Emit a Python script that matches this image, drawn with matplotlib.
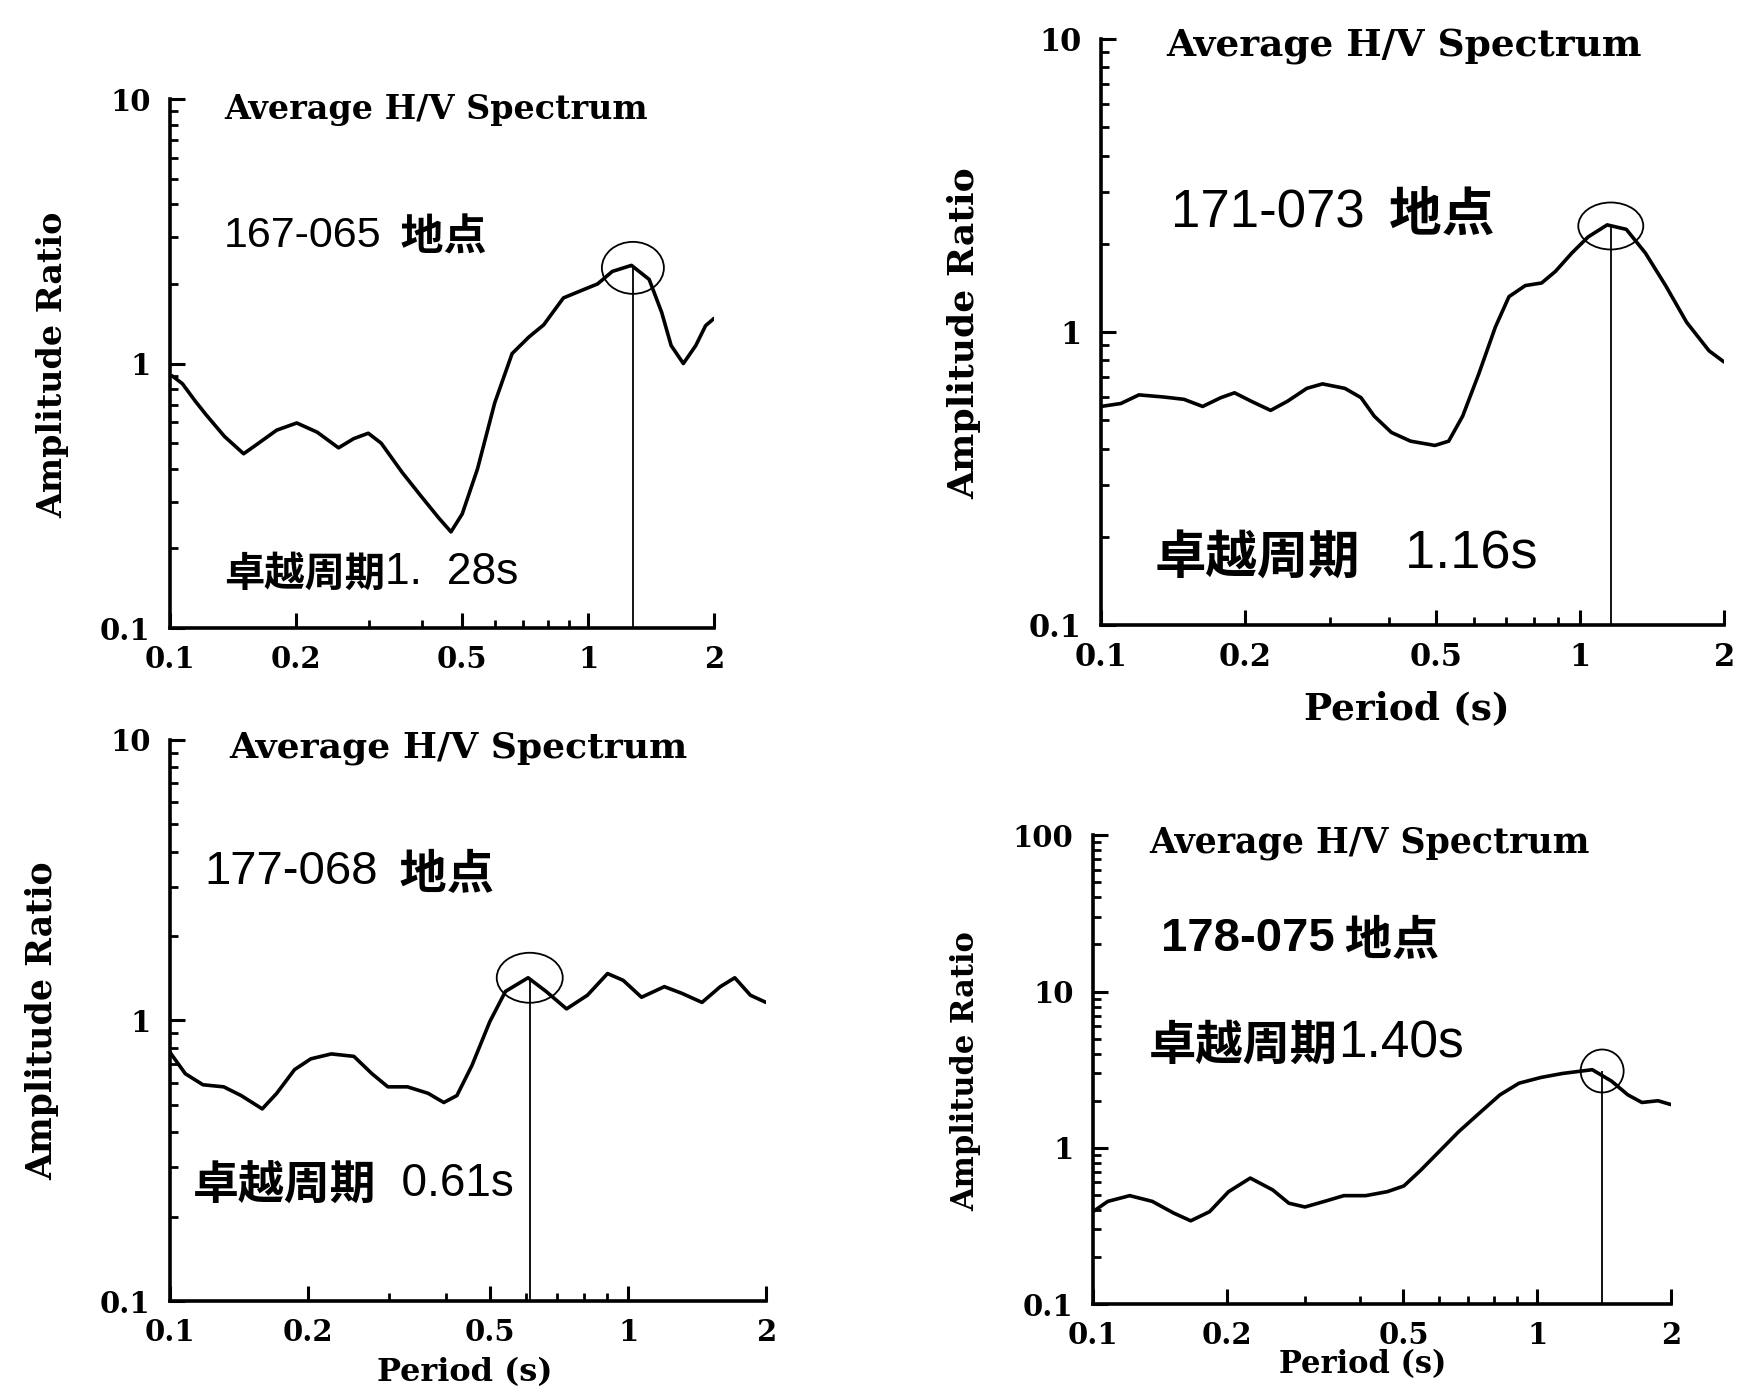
import numpy as np
import matplotlib
matplotlib.use("Agg")
import matplotlib.pyplot as plt
from matplotlib.patches import Ellipse
from matplotlib import transforms
from matplotlib.ticker import LogLocator, NullFormatter

# site names and predominant period of each H/V spectrum
sites = ["167-065", "171-073", "177-068", "178-075"]
period_text = ["1.  28s", "1.16s", "0.61s", "1.40s"]
peak_period = [1.28, 1.16, 0.61, 1.40]
peak_amp = [2.3, 2.3, 1.42, 3.1]

# curves: period (s) / amplitude ratio
t1 = [0.101, 0.107, 0.115, 0.122, 0.135, 0.150, 0.160, 0.180, 0.201, 0.225, 0.253, 0.275,
      0.298, 0.320, 0.359, 0.400, 0.440, 0.470, 0.500, 0.544, 0.598, 0.658, 0.722,
      0.783, 0.873, 0.973, 1.054, 1.143, 1.27, 1.40, 1.50, 1.58, 1.69, 1.81, 1.91, 2.0]
a1 = [0.90, 0.84, 0.72, 0.64, 0.53, 0.456, 0.49, 0.56, 0.596, 0.55, 0.48, 0.52,
      0.545, 0.50, 0.388, 0.313, 0.26, 0.231, 0.27, 0.40, 0.71, 1.09, 1.26,
      1.40, 1.77, 1.90, 2.0, 2.23, 2.35, 2.08, 1.56, 1.17, 1.0, 1.17, 1.39, 1.48]

t2 = [0.100, 0.110, 0.120, 0.135, 0.149, 0.163, 0.178, 0.190, 0.206, 0.226, 0.245,
      0.269, 0.290, 0.323, 0.349, 0.372, 0.404, 0.443, 0.498, 0.532, 0.569, 0.615,
      0.666, 0.711, 0.769, 0.832, 0.889, 0.962, 1.04, 1.14, 1.25, 1.37, 1.51, 1.67,
      1.86, 2.0]
a2 = [0.557, 0.57, 0.61, 0.60, 0.589, 0.557, 0.597, 0.62, 0.58, 0.54, 0.58,
      0.642, 0.665, 0.642, 0.597, 0.516, 0.454, 0.424, 0.41, 0.424, 0.516, 0.72,
      1.04, 1.32, 1.44, 1.47, 1.61, 1.86, 2.11, 2.32, 2.24, 1.86, 1.44, 1.08,
      0.863, 0.79]

t3 = [0.100, 0.108, 0.118, 0.131, 0.143, 0.159, 0.171, 0.187, 0.203, 0.225, 0.252,
      0.276, 0.299, 0.330, 0.366, 0.396, 0.423, 0.456, 0.499, 0.540, 0.605, 0.662,
      0.734, 0.815, 0.902, 0.976, 1.07, 1.20, 1.31, 1.45, 1.59, 1.71, 1.85, 2.0]
a3 = [0.77, 0.646, 0.59, 0.58, 0.54, 0.484, 0.55, 0.668, 0.73, 0.76, 0.745,
      0.646, 0.58, 0.58, 0.55, 0.51, 0.54, 0.69, 0.99, 1.27, 1.42, 1.27,
      1.10, 1.23, 1.47, 1.39, 1.21, 1.32, 1.25, 1.16, 1.32, 1.42, 1.23, 1.16]

t4 = [0.100, 0.108, 0.121, 0.136, 0.152, 0.166, 0.183, 0.202, 0.226, 0.254, 0.276,
      0.300, 0.332, 0.367, 0.411, 0.460, 0.501, 0.546, 0.603, 0.666, 0.745, 0.824,
      0.910, 1.02, 1.14, 1.33, 1.47, 1.60, 1.72, 1.87, 2.0]
a4 = [0.39, 0.454, 0.494, 0.454, 0.382, 0.341, 0.39, 0.524, 0.64, 0.537, 0.442,
      0.418, 0.454, 0.494, 0.494, 0.524, 0.57, 0.716, 0.953, 1.27, 1.69, 2.18,
      2.59, 2.82, 2.99, 3.16, 2.67, 2.18, 1.95, 2.0, 1.89]

periods = [t1, t2, t3, t4]
ratios = [a1, a2, a3, a4]
ylims = [(0.1, 10), (0.1, 10), (0.1, 10), (0.1, 100)]
xticks = [0.1, 0.2, 0.5, 1, 2]
xticklabels = ["0.1", "0.2", "0.5", "1", "2"]

# axes rectangles (figure fraction)
rects = [[0.0967, 0.5472, 0.3094, 0.3814],
         [0.6263, 0.5494, 0.3544, 0.4225],
         [0.0967, 0.0620, 0.3390, 0.4045],
         [0.6217, 0.0598, 0.3288, 0.3380]]

# text placement per panel (axes fraction)
title_pos = [(0.099, 0.981), (0.104, 0.987), (0.10, 0.986), (0.097, 0.983)]
title_size = [24, 27, 26, 25]
site_pos = [(0.099, 0.742), (0.113, 0.703), (0.058, 0.764), (0.117, 0.778)]
site_size = [31, 38, 34, 34]
per_pos = [(0.099, 0.102), (0.086, 0.115), (0.038, 0.204), (0.097, 0.55)]
per_size = [29, 37, 33, 34]
num_size = [32, 39, 33, 37]
per_gap = ["", "   ", "  ", ""]
ylab_pos = [(-0.185, 0.498), (-0.192, 0.498), (-0.186, 0.5), (-0.194, 0.498)]
ylab_size = [24, 26, 25, 22]
xlab_pos = [None, (0.491, -0.111), (0.495, -0.100), (0.466, -0.096)]
xlab_size = [0, 27, 23, 22]
tick_size = [21, 22, 21, 21]
ellipse_wh = [(0.62, 0.52), (0.65, 0.47), (0.66, 0.50), (0.43, 0.43)]

serif = "DejaVu Serif"
num_font = ["Liberation Sans", "Noto Sans CJK JP"]
cjk_font = ["Noto Sans CJK JP", "DejaVu Sans"]

fig = plt.figure(figsize=(17.58, 13.87), dpi=100)

for i in range(4):
    ax = fig.add_axes(rects[i])
    ax.set_xscale("log")
    ax.set_yscale("log")
    ax.set_xlim(0.1, 2)
    ax.set_ylim(*ylims[i])
    ax.plot(periods[i], ratios[i], color="black", lw=2.6,
            solid_joinstyle="round", solid_capstyle="round")
    ax.vlines(peak_period[i], ylims[i][0], peak_amp[i], color="black", lw=1.3)

    # circle round the peak
    w, h = ellipse_wh[i]
    trans = fig.dpi_scale_trans + transforms.ScaledTranslation(
        peak_period[i], peak_amp[i], ax.transData)
    ax.add_patch(Ellipse((0, 0), w, h, transform=trans, fill=False,
                         edgecolor="black", lw=1.3, clip_on=False))

    for s in ["top", "right"]:
        ax.spines[s].set_visible(False)
    for s in ["left", "bottom"]:
        ax.spines[s].set_linewidth(2.6)

    ax.set_xticks(xticks)
    ax.set_xticklabels(xticklabels)
    ax.xaxis.set_minor_locator(LogLocator(base=10, subs=np.arange(1, 10)))
    ax.xaxis.set_minor_formatter(NullFormatter())
    ax.yaxis.set_major_locator(LogLocator(base=10))
    ax.yaxis.set_minor_locator(LogLocator(base=10, subs=np.arange(2, 10)))
    ax.yaxis.set_minor_formatter(NullFormatter())
    ax.yaxis.set_major_formatter(plt.FuncFormatter(lambda v, p: "%g" % v))
    ax.tick_params(which="major", direction="in", length=11, width=2.2,
                   labelsize=tick_size[i])
    ax.tick_params(axis="x", which="major", pad=12)
    ax.tick_params(axis="y", which="major", pad=14)
    ax.tick_params(which="minor", direction="in", length=6, width=2)
    for lab in ax.get_xticklabels() + ax.get_yticklabels():
        lab.set_fontfamily(serif)
        lab.set_fontweight("bold")

    ax.set_ylabel("Amplitude Ratio", fontfamily=serif, fontweight="bold",
                  fontsize=ylab_size[i])
    ax.yaxis.set_label_coords(*ylab_pos[i])
    if xlab_pos[i] is not None:
        ax.set_xlabel("Period (s)", fontfamily=serif, fontweight="bold",
                      fontsize=xlab_size[i])
        ax.xaxis.set_label_coords(*xlab_pos[i])

    ax.text(title_pos[i][0], title_pos[i][1], "Average H/V Spectrum",
            transform=ax.transAxes, fontfamily=serif, fontweight="bold",
            fontsize=title_size[i], ha="left", va="center")

    # site number + 地点
    t = ax.text(site_pos[i][0], site_pos[i][1], sites[i], transform=ax.transAxes,
                fontfamily=num_font, fontsize=site_size[i], ha="left", va="center",
                fontweight="bold" if i == 3 else "normal")
    ax.annotate("  地点" if i != 3 else " 地点", xy=(1, 0.45), xycoords=t,
                fontfamily=cjk_font, fontsize=site_size[i], fontweight="bold",
                ha="left", va="center")

    # 卓越周期 + period
    c = ax.text(per_pos[i][0], per_pos[i][1], "卓越周期", transform=ax.transAxes,
                fontfamily=cjk_font, fontsize=per_size[i], fontweight="bold",
                ha="left", va="center")
    ax.annotate(per_gap[i] + period_text[i], xy=(1, 0.55), xycoords=c,
                fontfamily=num_font, fontsize=num_size[i], ha="left", va="center")

fig.savefig("out.png", dpi=100)
